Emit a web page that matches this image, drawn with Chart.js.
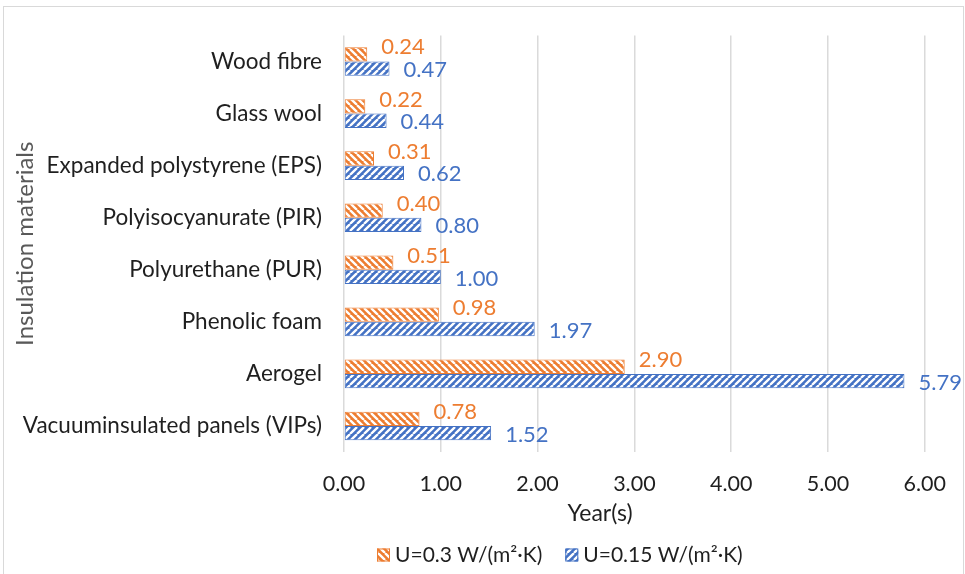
<!DOCTYPE html>
<html>
<head>
<meta charset="utf-8">
<script src="https://cdn.jsdelivr.net/npm/chart.js@4"></script>
<style>
  html, body { margin: 0; padding: 0; background: #fff; }
  body { width: 965px; height: 574px; overflow: hidden; position: relative; }
  #frame { position: absolute; left: 3px; top: 6px; width: 961px; height: 600px;
           border: 1px solid #d9d9d9; box-sizing: border-box; }
  #wrap { position: absolute; left: 0; top: 0; width: 965px; height: 574px; }
</style>
</head>
<body>
<div id="frame"></div>
<div id="wrap"><canvas id="c" width="965" height="574"></canvas></div>
<script>
// Insulation materials, listed top to bottom
const materials = [
  'Wood fibre',
  'Glass wool',
  'Expanded polystyrene (EPS)',
  'Polyisocyanurate (PIR)',
  'Polyurethane (PUR)',
  'Phenolic foam',
  'Aerogel',
  'Vacuuminsulated panels (VIPs)'
];
const seriesNames = ['U=0.3 W/(m²·K)', 'U=0.15 W/(m²·K)'];
// Years for each material
const yearsU03  = [0.24, 0.22, 0.31, 0.40, 0.51, 0.98, 2.90, 0.78];
const yearsU015 = [0.47, 0.44, 0.62, 0.80, 1.00, 1.97, 5.79, 1.52];
const yearTicks = [0, 1, 2, 3, 4, 5, 6];
const axisTitleX = 'Year(s)';
const axisTitleY = 'Insulation materials';

const ORANGE = '#ED7D31';
const BLUE = '#4472C4';
const FONT = 'Lato, "Liberation Sans", sans-serif';
const TEXT = '#1f1f1f';

const canvas = document.getElementById('c');
const mainCtx = canvas.getContext('2d');

// Diagonal hatch fill: white stripes over the series colour
function hatch(color, rising) {
  const s = 7;
  const tile = document.createElement('canvas');
  tile.width = s; tile.height = s;
  const g = tile.getContext('2d');
  g.fillStyle = color;
  g.fillRect(0, 0, s, s);
  g.strokeStyle = '#ffffff';
  g.lineWidth = 2.3;
  g.beginPath();
  for (let k = -1; k <= 1; k++) {
    if (rising) { g.moveTo(k * s, s); g.lineTo(k * s + s, 0); }
    else { g.moveTo(k * s, 0); g.lineTo(k * s + s, s); }
  }
  g.stroke();
  return mainCtx.createPattern(tile, 'repeat');
}
const orangeFill = hatch(ORANGE, false);
const blueFill = hatch(BLUE, true);

// Value labels beside each bar end
const valueLabels = {
  id: 'valueLabels',
  afterDatasetsDraw(chart) {
    const ctx = chart.ctx;
    ctx.save();
    ctx.font = '22px ' + FONT;
    ctx.textAlign = 'left';
    ctx.textBaseline = 'middle';
    const lift = [-7, 1.5];
    chart.data.datasets.forEach((ds, i) => {
      const meta = chart.getDatasetMeta(i);
      ctx.fillStyle = ds.borderColor;
      meta.data.forEach((bar, j) => {
        ctx.fillText(ds.data[j].toFixed(2), bar.x + 14, bar.y + lift[i]);
      });
    });
    ctx.restore();
  }
};

// X axis title and legend under the plot
const footer = {
  id: 'footer',
  afterDraw(chart) {
    const ctx = chart.ctx;
    ctx.save();
    ctx.fillStyle = TEXT;
    ctx.font = '23px ' + FONT;
    ctx.textAlign = 'center';
    ctx.textBaseline = 'middle';
    ctx.fillText(axisTitleX, 600, 514);

    ctx.font = '21px ' + FONT;
    ctx.textAlign = 'left';
    const y = 555;
    const box = 13;
    let x = 377;
    chart.data.datasets.forEach((ds) => {
      ctx.fillStyle = ds.backgroundColor;
      ctx.fillRect(x, y - box / 2, box, box);
      ctx.strokeStyle = ds.borderColor;
      ctx.lineWidth = 1;
      ctx.strokeRect(x + 0.5, y - box / 2 + 0.5, box - 1, box - 1);
      ctx.fillStyle = TEXT;
      ctx.fillText(ds.label, x + box + 5, y);
      x += box + 5 + ctx.measureText(ds.label).width + 23;
    });
    ctx.restore();
  }
};

new Chart(canvas, {
  type: 'bar',
  data: {
    labels: materials,
    datasets: [
      { label: seriesNames[0], data: yearsU03, backgroundColor: orangeFill,
        borderColor: ORANGE, borderWidth: 1, borderSkipped: false },
      { label: seriesNames[1], data: yearsU015, backgroundColor: blueFill,
        borderColor: BLUE, borderWidth: 1, borderSkipped: false }
    ]
  },
  options: {
    indexAxis: 'y',
    responsive: false,
    devicePixelRatio: 1,
    animation: false,
    categoryPercentage: 0.55,
    barPercentage: 1.0,
    layout: { padding: { left: 0, right: 36, top: 35, bottom: 0 } },
    plugins: { legend: { display: false }, tooltip: { enabled: false }, title: { display: false } },
    scales: {
      x: {
        min: 0, max: 6,
        afterBuildTicks(scale) { scale.ticks = yearTicks.map(v => ({ value: v })); },
        afterFit(scale) { scale.height = 122; },
        grid: { color: '#dadada', lineWidth: 1.5, drawTicks: false },
        border: { display: false },
        ticks: {
          padding: 19,
          color: TEXT,
          font: { family: FONT, size: 21.5 },
          callback: (v) => Number(v).toFixed(2)
        }
      },
      y: {
        afterFit(scale) { scale.width = 344; },
        grid: { display: false, drawTicks: false },
        border: { display: false },
        ticks: { padding: 22, color: TEXT, font: { family: FONT, size: 22.5 } },
        title: {
          display: true, text: axisTitleY, color: '#595959',
          font: { family: FONT, size: 24 }, padding: { top: 11, bottom: 0 }
        }
      }
    }
  },
  plugins: [valueLabels, footer]
});
</script>
</body>
</html>
